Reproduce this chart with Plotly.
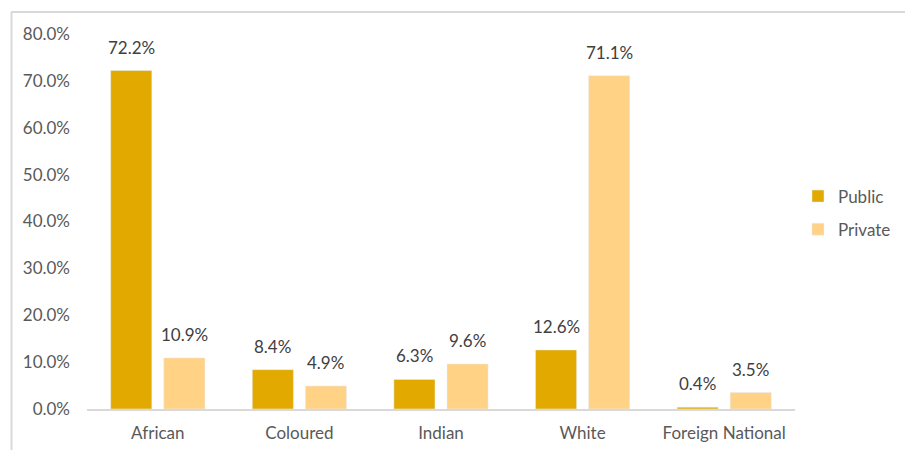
import plotly.graph_objects as go

categories = ["African", "Coloured", "Indian", "White", "Foreign National"]
public = [72.2, 8.4, 6.3, 12.6, 0.4]
private = [10.9, 4.9, 9.6, 71.1, 3.5]
y_ticks = [0, 10, 20, 30, 40, 50, 60, 70, 80]

PUBLIC_COLOR = "#E2AA00"
PRIVATE_COLOR = "#FFD286"
FONT = "Lato, 'Open Sans', sans-serif"

fig = go.Figure()
fig.add_trace(go.Bar(name="Public", x=categories, y=public,
                     marker_color=PUBLIC_COLOR, legendgroup="a"))
fig.add_trace(go.Bar(name="Private", x=categories, y=private,
                     marker_color=PRIVATE_COLOR, legendgroup="b"))

# value labels above each bar
annotations = []
for vals, shift in ((public, -26.5), (private, 26.5)):
    for cat, v in zip(categories, vals):
        annotations.append(dict(
            x=cat, y=v, xref="x", yref="y", text=f"{v:.1f}%",
            showarrow=False, xshift=shift, yshift=11, yanchor="bottom",
            font=dict(family=FONT, size=17, color="#404040")))

L, R, T, B = 87, 110, 34, 41
W, H = 905, 450
pw, ph = W - L - R, H - T - B

def px_x(p):
    return (p - L) / pw

def px_y(p):
    return (H - B - p) / ph

# outer frame (left and top edges visible)
shapes = [
    dict(type="line", xref="paper", yref="paper",
         x0=px_x(11), x1=px_x(W + 5), y0=px_y(12), y1=px_y(12),
         line=dict(color="#D9D9D9", width=2)),
    dict(type="line", xref="paper", yref="paper",
         x0=px_x(11.5), x1=px_x(11.5), y0=px_y(12), y1=px_y(H + 5),
         line=dict(color="#D9D9D9", width=2)),
]

fig.update_layout(
    width=W, height=H,
    margin=dict(l=L, r=R, t=T, b=B, autoexpand=False),
    paper_bgcolor="white", plot_bgcolor="white",
    barmode="group", bargap=0.25, bargroupgap=0.226,
    font=dict(family=FONT, size=17, color="#595959"),
    xaxis=dict(showline=True, linecolor="#D9D9D9", linewidth=1.5,
               ticks="", showgrid=False, ticklabelstandoff=8,
               tickfont=dict(size=17, color="#595959")),
    yaxis=dict(range=[0, 80], tickvals=y_ticks,
               ticktext=[f"{t:.1f}%" for t in y_ticks],
               showgrid=False, zeroline=False, showline=False,
               tickfont=dict(size=17, color="#595959"), ticklabelstandoff=16),
    legend=dict(x=px_x(798), y=px_y(213), xanchor="left", yanchor="middle",
                traceorder="grouped", tracegroupgap=8,
                font=dict(size=17, color="#595959"), itemwidth=30),
    annotations=annotations,
    shapes=shapes,
)

fig.write_html("out.html")
